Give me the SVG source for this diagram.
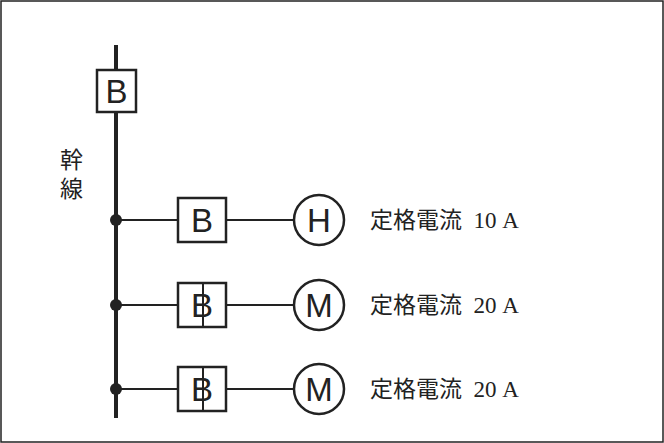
<svg xmlns="http://www.w3.org/2000/svg" width="664" height="443" viewBox="0 0 664 443">
<style>
.l{stroke:#222;stroke-width:2;fill:none}
.b{stroke:#222;stroke-width:2.5;fill:#fff}
.t{font-family:"Liberation Serif","Noto Sans CJK JP",serif;font-size:23px;fill:#222;white-space:pre}
.s{font-family:"Liberation Sans",Arial,sans-serif;font-size:33px;fill:#222;text-anchor:middle}
</style>
<rect x="1" y="1" width="662" height="441" fill="#fff" stroke="#222" stroke-width="1.5"/>
<g id="connectors">
<line x1="116" y1="45" x2="116" y2="418" stroke="#222" stroke-width="4"/>
<line class="l" x1="116" y1="220" x2="294" y2="220"/>
<line class="l" x1="116" y1="305" x2="294" y2="305"/>
<line class="l" x1="116" y1="389" x2="294" y2="389"/>
<circle cx="116" cy="220" r="6" fill="#222"/>
<circle cx="116" cy="305" r="6" fill="#222"/>
<circle cx="116" cy="389" r="6" fill="#222"/>
</g>
<g id="mainB"><rect class="b" x="97" y="70" width="39" height="42"/><text class="s" x="116.5" y="103">B</text></g>
<text class="t" x="60" y="168">幹</text>
<text class="t" x="60" y="197">線</text>
<g id="b1"><rect class="b" x="178" y="198" width="48" height="44"/><text class="s" x="202" y="232">B</text></g>
<g id="b2"><rect class="b" x="178" y="283" width="48" height="44"/><text class="s" x="202" y="317">B</text><line class="l" x1="203" y1="283" x2="203" y2="327"/></g>
<g id="b3"><rect class="b" x="178" y="367" width="48" height="44"/><text class="s" x="202" y="401">B</text><line class="l" x1="203" y1="367" x2="203" y2="411"/></g>
<g id="h"><circle class="b" cx="319" cy="220" r="25"/><text class="s" x="319" y="232">H</text></g>
<g id="m1"><circle class="b" cx="319" cy="305" r="25"/><text class="s" x="319" y="317">M</text></g>
<g id="m2"><circle class="b" cx="319" cy="389" r="25"/><text class="s" x="319" y="401">M</text></g>
<text class="t" x="370" y="228">定格電流  10 A</text>
<text class="t" x="370" y="313">定格電流  20 A</text>
<text class="t" x="370" y="397">定格電流  20 A</text>
</svg>
